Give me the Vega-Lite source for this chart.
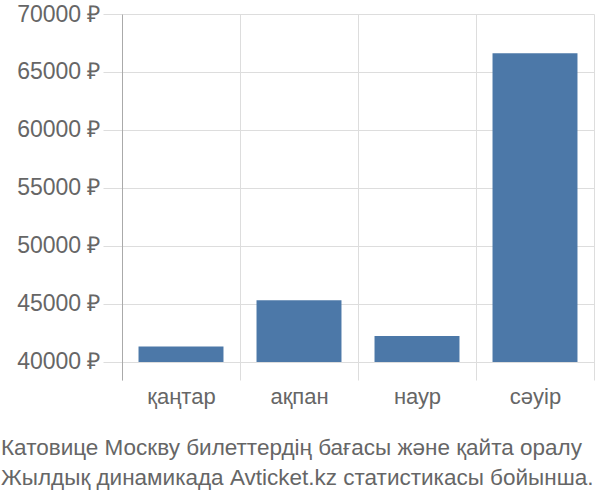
{
  "$schema": "https://vega.github.io/schema/vega-lite/v6.json",
  "autosize": "none",
  "width": 472,
  "height": 366,
  "padding": {"left": 122, "top": 14, "right": 6, "bottom": 120},
  "title": {
    "text": ["Катовице Москву билеттердің бағасы және қайта оралу", "Жылдық динамикада Avticket.kz статистикасы бойынша."],
    "orient": "bottom",
    "anchor": "start",
    "frame": "group",
    "dx": -121,
    "offset": 30,
    "font": "Liberation Sans",
    "fontSize": 22.5,
    "fontWeight": "normal",
    "lineHeight": 30,
    "color": "#666666"
  },
  "data": {
    "values": [
      {"month": "қаңтар", "price": 41330},
      {"month": "ақпан", "price": 45320},
      {"month": "наур", "price": 42240},
      {"month": "сәуір", "price": 66610}
    ]
  },
  "config": {
    "view": {"stroke": null},
    "axis": {"labelFont": "Liberation Sans", "labelColor": "#666666", "gridColor": "#dddddd"}
  },
  "mark": {"type": "bar", "color": "#4c78a8", "width": {"band": 0.72}},
  "encoding": {
    "x": {
      "field": "month",
      "type": "nominal",
      "sort": null,
      "scale": {"paddingInner": 0, "paddingOuter": 0},
      "axis": {
        "title": null,
        "labelAngle": 0,
        "labelFontSize": 22,
        "labelPadding": 6,
        "domain": false,
        "ticks": false,
        "grid": true,
        "tickBand": "extent"
      }
    },
    "y": {
      "field": "price",
      "type": "quantitative",
      "scale": {"domain": [38447, 70000], "nice": false, "zero": false},
      "axis": {
        "title": null,
        "values": [40000, 45000, 50000, 55000, 60000, 65000, 70000],
        "labelExpr": "datum.value + ' ₽'",
        "labelFontSize": 23,
        "labelPadding": 3,
        "tickSize": 19,
        "tickColor": "#dddddd",
        "domainColor": "#aaaaaa",
        "grid": true
      }
    },
    "y2": {"datum": 40000}
  }
}
